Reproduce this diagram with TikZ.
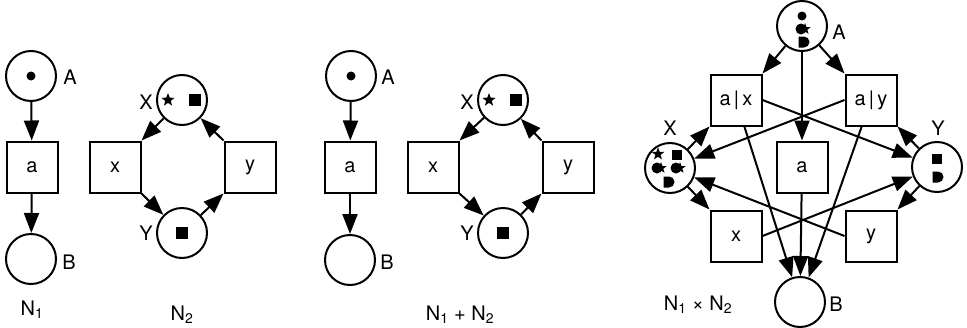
\documentclass[tikz,border=0pt]{standalone}
\usepackage{fontspec}
\setmainfont{TeX Gyre Heros}
\usetikzlibrary{arrows.meta}
\newcommand\tkdot[2]{\fill (#1,#2) circle[radius=4.5pt];}
\newcommand\tksq[3]{\fill[shift={(#1,#2)}] (-#3,-#3) rectangle (#3,#3);}
\newcommand\tkstar[3]{\fill[shift={(#1,#2)},scale=#3] (-90:7) -- (-54:2.9) -- (-18:7) -- (18:2.9) -- (54:7) -- (90:2.9) -- (126:7) -- (162:2.9) -- (198:7) -- (234:2.9) -- cycle;}
\newcommand\tkD[3]{\fill[shift={(#1,#2)}] (-#3,-#3) rectangle (0,#3) (0,0) circle[radius=#3pt];}
\newcommand\tkDS[2]{\fill[shift={(#1,#2)}] (-1,0) circle[radius=5.5pt]; \tkstar{#1+3}{#2}{0.85}}
\begin{document}
\begin{tikzpicture}[x=1pt,y=-1pt,
  place/.style={circle,draw,line width=2pt,minimum size=50pt,inner sep=0pt},
  trans/.style={rectangle,draw,line width=2pt,minimum size=51pt,inner sep=0pt,font=\fontsize{20}{24}\selectfont},
  lbl/.style={inner sep=0pt,font=\fontsize{20}{24}\selectfont},
  arr/.style={line width=2pt,-{Triangle[length=20pt,width=15pt]}}]
\useasboundingbox (0,0) rectangle (967,327);
% ---------- N1 ----------
\node[place] (A1) at (31,76) {};
\node[trans] (a1) at (32,167) {a};
\node[place] (B1) at (31,259) {};
\node[lbl] (lA1) at (70,77) {A};
\node[lbl] (lB1) at (69,262) {B};
\node[lbl] (lN1) at (32,310) {N\textsubscript{1}};
\draw[arr] (A1) -- (a1);
\draw[arr] (a1) -- (B1);
\tkdot{31}{76}
% ---------- N2 ----------
\node[place] (X2) at (182,100) {};
\node[trans] (x2) at (115,167) {x};
\node[trans] (y2) at (250,167) {y};
\node[place] (Y2) at (182,233) {};
\node[lbl] (lX2) at (146,102) {X};
\node[lbl] (lY2) at (146,233) {Y};
\node[lbl] (lN2) at (182,315) {N\textsubscript{2}};
\draw[arr] (X2) -- (x2.north east);
\draw[arr] (x2.south east) -- (Y2);
\draw[arr] (Y2) -- (y2.south west);
\draw[arr] (y2.north west) -- (X2);
\tkstar{168}{100}{1}
\tksq{195}{100}{6}
\tksq{182}{233}{6}
% ---------- N1 + N2 ----------
\node[place] (A3) at (351,76) {};
\node[trans] (a3) at (350,167) {a};
\node[place] (B3) at (350,260) {};
\node[lbl] (lA3) at (388,77) {A};
\node[lbl] (lB3) at (387,262) {B};
\draw[arr] (A3) -- (a3);
\draw[arr] (a3) -- (B3);
\tkdot{351}{76}
\node[place] (X3) at (503,100) {};
\node[trans] (x3) at (433,167) {x};
\node[trans] (y3) at (568,167) {y};
\node[place] (Y3) at (503,233) {};
\node[lbl] (lX3) at (467,102) {X};
\node[lbl] (lY3) at (467,233) {Y};
\node[lbl] (lN3) at (460,315) {N\textsubscript{1} + N\textsubscript{2}};
\draw[arr] (X3) -- (x3.north east);
\draw[arr] (x3.south east) -- (Y3);
\draw[arr] (Y3) -- (y3.south west);
\draw[arr] (y3.north west) -- (X3);
\tkstar{489}{100}{1}
\tksq{516}{100}{6}
\tksq{503}{233}{6}
% ---------- N1 x N2 ----------
\node[place] (pA) at (802,26) {};
\node[trans] (pax) at (736,100) {a\,|\,x};
\node[trans] (pay) at (871,100) {a\,|\,y};
\node[trans] (pa) at (802,167) {a};
\node[trans] (px) at (736,236) {x};
\node[trans] (py) at (871,236) {y};
\node[place] (pX) at (670,168) {};
\node[place] (pY) at (937,167) {};
\node[place] (pB) at (800,302) {};
\node[lbl] (lpA) at (839,32) {A};
\node[lbl] (lpB) at (836,304) {B};
\node[lbl] (lpX) at (670,128) {X};
\node[lbl] (lpY) at (938,128) {Y};
\node[lbl] (lpN) at (698,305) {N\textsubscript{1} × N\textsubscript{2}};
\draw[arr] (pA) -- (pax.north east);
\draw[arr] (pA) -- (pay.north west);
\draw[arr] (pA) -- (pa);
\draw[arr] (pax.east) -- (pY);
\draw[arr] (pay.west) -- (pX);
\draw[arr] (pX) -- (pax.south west);
\draw[arr] (pY) -- (pay.south east);
\draw[arr] (pX) -- (px.north west);
\draw[arr] (pY) -- (py.north east);
\draw[arr] (px.east) -- (pY);
\draw[arr] (py.west) -- (pX);
\draw[arr] (pax) -- (pB);
\draw[arr] (pa) -- (pB);
\draw[arr] (pay) -- (pB);
% tokens
\tkdot{802}{16}
\tkDS{802}{29}
\tkD{804}{42}{5.5}
\tkstar{658}{154}{0.95}
\tksq{677}{155}{5}
\tkDS{658}{168}
\tkDS{677}{168}
\tkD{669}{182}{5.5}
\tksq{937}{159}{5}
\tkD{938}{177}{5.5}
\end{tikzpicture}
\end{document}
